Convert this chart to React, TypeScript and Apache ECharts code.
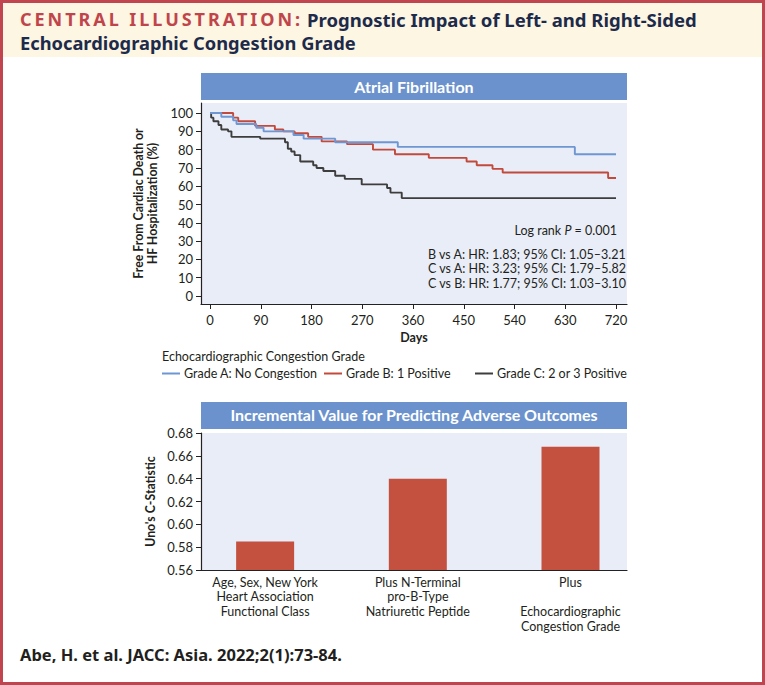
import React, { useEffect, useRef } from "react";
import * as echarts from "echarts";

const FONT = "Lato, 'Noto Sans', sans-serif";
const HEAD_FONT = "'Noto Sans', sans-serif";
const TXT = "#231f20";

// Kaplan-Meier (step "end": value holds from the given day onward)
const dayTicks = [0, 90, 180, 270, 360, 450, 540, 630, 720];
const pctTicks = [0, 10, 20, 30, 40, 50, 60, 70, 80, 90, 100];

const gradeNames = ["Grade A: No Congestion", "Grade B: 1 Positive", "Grade C: 2 or 3 Positive"];
const gradeColors = ["#6d96d2", "#c24a3c", "#3d3d3d"];

const gradeADays = [0, 20, 41, 47, 82, 95, 148, 166, 222, 333, 647, 720];
const gradeAValues = [100, 98, 96, 94, 92, 90, 88, 86, 84, 81.5, 77.5, 77.5];

const gradeBDays = [0, 41, 50, 80, 115, 130, 150, 174, 198, 243, 289, 328, 388, 455, 473, 501, 519, 706, 720];
const gradeBValues = [100, 97.5, 95.5, 93, 91, 90, 89, 87, 84.5, 83, 80, 77.5, 75.5, 73.5, 71.5, 69.5, 67.5, 64.5, 64.5];

const gradeCDays = [0, 2, 6, 15, 20, 32, 38, 89, 133, 138, 144, 150, 160, 183, 189, 201, 222, 239, 269, 314, 320, 340, 720];
const gradeCValues = [100, 97.5, 95.5, 93.5, 91, 90, 87, 86, 84, 80.5, 79, 77, 73.5, 71.5, 70, 68.3, 65.7, 64, 61, 59, 56.5, 53.5, 53.5];

const hrLines = [
  "B vs A: HR: 1.83; 95% CI: 1.05\u20133.21",
  "C vs A: HR: 3.23; 95% CI: 1.79\u20135.82",
  "C vs B: HR: 1.77; 95% CI: 1.03\u20133.10",
];

// Bar chart
const barCategories = [
  "Age, Sex, New York\nHeart Association\nFunctional Class",
  "Plus N-Terminal\npro-B-Type\nNatriuretic Peptide",
  "Plus\n\nEchocardiographic\nCongestion Grade",
];
const barValues = [0.585, 0.64, 0.668];
const barTicks = [0.56, 0.58, 0.6, 0.62, 0.64, 0.66, 0.68];

const KICKER = "CENTRAL ILLUSTRATION:";
const KICKER_WIDTH = 280;

function zip(a: number[], b: number[]) {
  return a.map((v, i) => [v, b[i]]);
}

export default function App() {
  const ref = useRef<HTMLDivElement>(null);
  useEffect(() => {
    if (!ref.current) return;
    const el = ref.current;
    const chart = echarts.init(el, null, { renderer: "svg" });
    const gradeData = [zip(gradeADays, gradeAValues), zip(gradeBDays, gradeBValues), zip(gradeCDays, gradeCValues)];
    const legendLefts = [162, 324, 475];

    const option: any = {
      animation: false,
      backgroundColor: "#ffffff",
      textStyle: { fontFamily: FONT },
      grid: [
        { left: 201, top: 103, width: 426, height: 201, show: true, backgroundColor: "#e9edf7", borderWidth: 0 },
        { left: 201, top: 433, width: 426, height: 137, show: true, backgroundColor: "#e9edf7", borderWidth: 0 },
      ],
      xAxis: [
        {
          type: "value",
          gridIndex: 0,
          min: -16,
          max: 739.5,
          splitLine: { show: false },
          axisLine: { show: true, onZero: false, lineStyle: { color: "#222", width: 1.2 } },
          axisTick: { show: true, length: 5, customValues: dayTicks, lineStyle: { color: "#222" } },
          axisLabel: { customValues: dayTicks, fontSize: 13, color: TXT, margin: 9, fontFamily: FONT },
          name: "Days",
          nameLocation: "middle",
          nameGap: 27,
          nameTextStyle: { fontSize: 12.5, fontWeight: "bold", color: TXT, fontFamily: FONT },
        },
        {
          type: "value",
          gridIndex: 1,
          min: -0.42,
          max: 2.37,
          splitLine: { show: false },
          axisLine: { show: true, onZero: false, lineStyle: { color: "#222", width: 1.2 } },
          axisTick: { show: false },
          axisLabel: {
            customValues: [0, 1, 2],
            formatter: (v: number) => barCategories[Math.round(v)],
            fontSize: 12.5,
            lineHeight: 14.6,
            color: TXT,
            margin: 5,
            fontFamily: FONT,
          },
        },
      ],
      yAxis: [
        {
          type: "value",
          gridIndex: 0,
          min: -4.4,
          max: 105.5,
          splitLine: { show: false },
          axisLine: { show: true, onZero: false, lineStyle: { color: "#222", width: 1.2 } },
          axisTick: { show: true, length: 5, customValues: pctTicks, lineStyle: { color: "#222" } },
          axisLabel: { customValues: pctTicks, fontSize: 13, color: TXT, margin: 8, fontFamily: FONT },
          name: "Free From Cardiac Death or\nHF Hospitalization (%)",
          nameLocation: "middle",
          nameRotate: 90,
          nameGap: 33,
          nameTextStyle: { fontSize: 12.3, lineHeight: 14, fontWeight: "bold", color: TXT, fontFamily: FONT },
        },
        {
          type: "value",
          gridIndex: 1,
          min: 0.56,
          max: 0.68,
          interval: 0.02,
          splitLine: { show: false },
          axisLine: { show: true, onZero: false, lineStyle: { color: "#222", width: 1.2 } },
          axisTick: { show: true, length: 5, customValues: barTicks, lineStyle: { color: "#222" } },
          axisLabel: {
            customValues: barTicks,
            formatter: (v: number) => v.toFixed(2),
            fontSize: 13,
            color: TXT,
            margin: 8,
            fontFamily: FONT,
          },
          name: "Uno's C-Statistic",
          nameLocation: "middle",
          nameRotate: 90,
          nameGap: 39,
          nameTextStyle: { fontSize: 12.3, fontWeight: "bold", color: TXT, fontFamily: FONT },
        },
      ],
      legend: gradeNames.map((n, i) => ({
        data: [n],
        left: legendLefts[i],
        top: 367,
        padding: 0,
        icon: "rect",
        itemWidth: 18,
        itemHeight: 2,
        itemGap: 0,
        selectedMode: false,
        textStyle: { fontSize: 12.5, color: TXT, fontFamily: FONT, padding: [0, 0, 0, -1] },
      })),
      series: [
        ...gradeNames.map((n, i) => ({
          name: n,
          type: "line",
          xAxisIndex: 0,
          yAxisIndex: 0,
          step: "end",
          showSymbol: false,
          symbol: "none",
          data: gradeData[i],
          lineStyle: { color: gradeColors[i], width: 1.9 },
          itemStyle: { color: gradeColors[i] },
          z: 3 - i + 2,
        })),
        {
          name: "Uno's C-Statistic",
          type: "bar",
          xAxisIndex: 1,
          yAxisIndex: 1,
          barWidth: 58,
          data: barValues.map((v, i) => [i, v]),
          itemStyle: { color: "#c4503f" },
        },
      ],
      graphic: [
        { type: "rect", shape: { x: 0, y: 0, width: 765, height: 57 }, style: { fill: "#fcf6e3" }, z: 0 },
        {
          type: "text",
          x: 20,
          y: 19,
          style: {
            text: KICKER,
            fill: "#c0454b",
            fontSize: 18,
            fontWeight: "bold",
            fontFamily: HEAD_FONT,
            verticalAlign: "middle",
          },
          z: 10,
        },
        {
          type: "text",
          x: 307,
          y: 19,
          style: {
            text: "Prognostic Impact of Left- and Right-Sided",
            fill: "#1d2a4a",
            fontSize: 18.5,
            fontWeight: "bold",
            fontFamily: HEAD_FONT,
            verticalAlign: "middle",
          },
          z: 10,
        },
        {
          type: "text",
          x: 20,
          y: 42,
          style: {
            text: "Echocardiographic Congestion Grade",
            fill: "#1d2a4a",
            fontSize: 18.3,
            fontWeight: "bold",
            fontFamily: HEAD_FONT,
            verticalAlign: "middle",
          },
          z: 10,
        },
        { type: "rect", shape: { x: 201, y: 73, width: 426, height: 27 }, style: { fill: "#6b92cc" }, z: 1 },
        {
          type: "text",
          x: 414,
          y: 86,
          style: { text: "Atrial Fibrillation", fill: "#ffffff", fontSize: 16, fontWeight: "bold", fontFamily: FONT, align: "center", verticalAlign: "middle" },
          z: 2,
        },
        { type: "rect", shape: { x: 201, y: 402, width: 426, height: 27 }, style: { fill: "#6b92cc" }, z: 1 },
        {
          type: "text",
          x: 414,
          y: 414,
          style: { text: "Incremental Value for Predicting Adverse Outcomes", fill: "#ffffff", fontSize: 16, fontWeight: "bold", fontFamily: FONT, align: "center", verticalAlign: "middle" },
          z: 2,
        },
        {
          type: "text",
          x: 617,
          y: 230,
          style: {
            text: "{a|Log rank }{i|P}{a| = 0.001}",
            align: "right",
            verticalAlign: "middle",
            rich: {
              a: { fill: TXT, fontSize: 12.5, fontFamily: FONT },
              i: { fill: TXT, fontSize: 12.5, fontStyle: "italic", fontFamily: FONT },
            },
          },
          z: 10,
        },
        ...hrLines.map((t, i) => ({
          type: "text",
          x: 428,
          y: 254 + i * 14.8,
          style: { text: t, fill: TXT, fontSize: 12.5, fontFamily: FONT, verticalAlign: "middle" },
          z: 10,
        })),
        {
          type: "text",
          x: 162,
          y: 356,
          style: { text: "Echocardiographic Congestion Grade", fill: TXT, fontSize: 12.5, fontFamily: FONT, verticalAlign: "middle" },
          z: 10,
        },
        {
          type: "text",
          x: 20,
          y: 654,
          style: { text: "Abe, H. et al. JACC: Asia. 2022;2(1):73-84.", fill: TXT, fontSize: 16.5, fontWeight: "bold", fontFamily: HEAD_FONT, verticalAlign: "middle" },
          z: 10,
        },
        {
          type: "rect",
          shape: { x: 1.5, y: 1.5, width: 762, height: 682 },
          style: { fill: "none", stroke: "#c1454e", lineWidth: 3 },
          z: 20,
        },
      ],
    };
    chart.setOption(option);

    // widen the tracked "CENTRAL ILLUSTRATION:" kicker like the original typography
    const applySpacing = () => {
      const texts = el.querySelectorAll("text");
      texts.forEach((t: any) => {
        if (t.textContent === KICKER && !t.getAttribute("data-spaced")) {
          let len = 0;
          try {
            len = t.getComputedTextLength();
          } catch (e) {
            len = 0;
          }
          if (len > 0) {
            const sp = Math.max(0, (KICKER_WIDTH - len) / (KICKER.length - 1));
            t.setAttribute("letter-spacing", sp.toFixed(2));
            t.setAttribute("data-spaced", "1");
          }
        }
      });
    };
    applySpacing();
    const raf = requestAnimationFrame(applySpacing);
    const tm = setTimeout(applySpacing, 50);
    chart.on("finished", applySpacing);

    return () => {
      cancelAnimationFrame(raf);
      clearTimeout(tm);
      chart.dispose();
    };
  }, []);
  return <div ref={ref} style={{ position: "fixed", left: 0, top: 0, width: 765, height: 685 }} />;
}
